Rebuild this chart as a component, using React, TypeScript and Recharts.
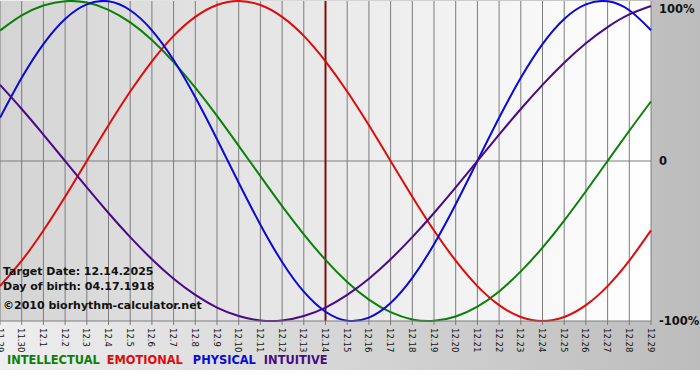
import { CartesianGrid, Line, LineChart, ReferenceLine, XAxis, YAxis } from 'recharts'

const days = [
  '11.29', '11.30', '12.1', '12.2', '12.3', '12.4', '12.5', '12.6', '12.7', '12.8', '12.9',
  '12.10', '12.11', '12.12', '12.13', '12.14', '12.15', '12.16', '12.17', '12.18', '12.19',
  '12.20', '12.21', '12.22', '12.23', '12.24', '12.25', '12.26', '12.27', '12.28', '12.29',
]

const intellectual = [
  0.815, 0.91, 0.972, 0.999, 0.99, 0.945, 0.866, 0.756, 0.618, 0.458, 0.282,
  0.095, -0.095, -0.282, -0.458, -0.618, -0.756, -0.866, -0.945, -0.99, -0.999,
  -0.972, -0.91, -0.815, -0.69, -0.541, -0.372, -0.189, 0, 0.189, 0.372,
]

const emotional = [
  -0.782, -0.623, -0.434, -0.223, 0, 0.223, 0.434, 0.623, 0.782, 0.901, 0.975,
  1, 0.975, 0.901, 0.782, 0.623, 0.434, 0.223, 0, -0.223, -0.434,
  -0.623, -0.782, -0.901, -0.975, -1, -0.975, -0.901, -0.782, -0.623, -0.434,
]

const physical = [
  0.27, 0.52, 0.731, 0.888, 0.979, 0.998, 0.942, 0.817, 0.631, 0.398, 0.136,
  -0.136, -0.398, -0.631, -0.817, -0.942, -0.998, -0.979, -0.888, -0.731, -0.52,
  -0.27, 0, 0.27, 0.52, 0.731, 0.888, 0.979, 0.998, 0.942, 0.817,
]

const intuitive = [
  0.476, 0.325, 0.165, 0, -0.165, -0.325, -0.476, -0.614, -0.736, -0.837, -0.916,
  -0.969, -0.997, -0.997, -0.969, -0.916, -0.837, -0.736, -0.614, -0.476, -0.325,
  -0.165, 0, 0.165, 0.325, 0.476, 0.614, 0.736, 0.837, 0.916, 0.969,
]

const yTicks = [-1, 0, 1]
const yLabels: Record<string, string> = { '-1': '-100%', '0': '0', '1': '100%' }
const targetDay = '12.14'

const series = [
  { key: 'intellectual', label: 'INTELLECTUAL', color: '#0a800a', gap: 7 },
  { key: 'emotional', label: 'EMOTIONAL', color: '#e00a0a', gap: 10 },
  { key: 'physical', label: 'PHYSICAL', color: '#0a0ad8', gap: 8 },
  { key: 'intuitive', label: 'INTUITIVE', color: '#4a0a88', gap: 0 },
]

const data = days.map((day, i) => ({
  day,
  intellectual: intellectual[i],
  emotional: emotional[i],
  physical: physical[i],
  intuitive: intuitive[i],
}))

const font = '"DejaVu Sans", Verdana, sans-serif'

function DayTick({ x, y, payload }: any) {
  return (
    <text
      transform={`translate(${x - 3.5},${y + 1}) rotate(90)`}
      fontFamily={font}
      fontSize={8.5}
      fill="#111"
      textAnchor="start"
    >
      {payload.value}
    </text>
  )
}

function PercentTick({ x, y, payload }: any) {
  return (
    <text x={x} y={y + 4} fontFamily={font} fontSize={11.5} fontWeight="bold" fill="#111">
      {yLabels[String(payload.value)]}
    </text>
  )
}

export default function App() {
  return (
    <div style={{ position: 'absolute', top: 0, left: 0, width: 700, height: 380, background: '#fff' }}>
      <div style={{ position: 'relative', width: 700, height: 370, background: 'linear-gradient(to right, #eeeeee, #bcbcbc)' }}>
        <LineChart width={700} height={370} data={data} margin={{ top: 1, right: 0, bottom: 0, left: 0 }}>
          <defs>
            <linearGradient id="plotBg" x1="0" y1="0" x2="1" y2="0">
              <stop offset="0%" stopColor="#d4d4d4" />
              <stop offset="100%" stopColor="#ffffff" />
            </linearGradient>
          </defs>
          <CartesianGrid horizontal={false} stroke="#7c7c7c" fill="url(#plotBg)" />
          <XAxis
            dataKey="day"
            interval={0}
            height={49}
            tick={<DayTick />}
            tickSize={4}
            tickLine={{ stroke: '#7c7c7c' }}
            axisLine={{ stroke: '#7c7c7c' }}
          />
          <YAxis
            orientation="right"
            width={49}
            domain={[-1, 1]}
            ticks={yTicks}
            axisLine={false}
            tickLine={false}
            tick={<PercentTick />}
          />
          <ReferenceLine y={0} stroke="#7c7c7c" />
          <ReferenceLine x={targetDay} stroke="#7a1010" strokeWidth={2} />
          {series.map((s) => (
            <Line
              key={s.key}
              type="natural"
              dataKey={s.key}
              stroke={s.color}
              strokeWidth={2}
              dot={false}
              isAnimationActive={false}
            />
          ))}
        </LineChart>
        <div
          style={{
            position: 'absolute',
            left: 3,
            top: 264,
            fontFamily: font,
            fontSize: 11,
            fontWeight: 'bold',
            color: '#111',
            lineHeight: '16px',
            pointerEvents: 'none',
          }}
        >
          <div>Target Date: 12.14.2025</div>
          <div style={{ marginTop: -1 }}>Day of birth: 04.17.1918</div>
          <div style={{ marginTop: 3 }}>©2010 biorhythm-calculator.net</div>
        </div>
        <div
          style={{
            position: 'absolute',
            left: 7,
            top: 353,
            fontFamily: font,
            fontSize: 11.4,
            fontWeight: 'bold',
            whiteSpace: 'nowrap',
          }}
        >
          {series.map((s) => (
            <span key={s.key} style={{ color: s.color, marginRight: s.gap }}>
              {s.label}
            </span>
          ))}
        </div>
      </div>
    </div>
  )
}
